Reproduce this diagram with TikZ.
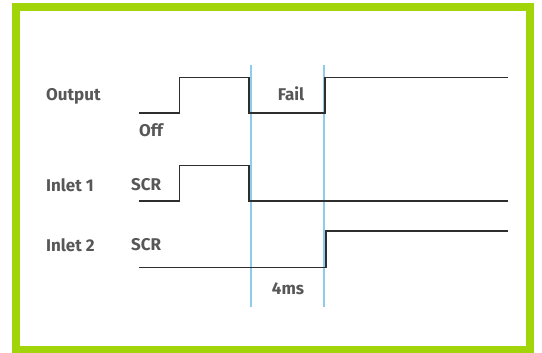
\documentclass[tikz,border=0pt]{standalone}
\usepackage{fontspec}
\setsansfont{Fira Sans}
\definecolor{frame}{HTML}{A2D40A}
\definecolor{ink}{HTML}{575757}
\definecolor{trace}{HTML}{2E2E2E}
\definecolor{marker}{HTML}{8FCBEA}

\begin{document}
\begin{tikzpicture}[x=1pt,y=-1pt,font=\sffamily\bfseries\fontsize{17}{19}\selectfont,
    text=ink,line join=miter]
  \tikzset{
    signal/.style={trace,line width=1.6pt},
    cursor/.style={marker,line width=1.6pt},
    sigtag/.style={anchor=west,inner sep=0pt}
  }
  \useasboundingbox (0,0) rectangle (542,353);
  \draw[frame,line width=8pt] (16,7) rectangle (529.5,350);

  % time cursors
  \draw[cursor] (250.8,65) -- (250.8,307);
  \draw[cursor] (323.8,65) -- (323.8,307);

  % traces
  \draw[signal] (139,113) -- (179.5,113) -- (179.5,77.5) -- (249,77.5)
    -- (249,113) -- (325,113) -- (325,77.5) -- (508,77.5);
  \draw[signal] (139,201) -- (179.5,201) -- (179.5,165.5) -- (249,165.5)
    -- (249,201) -- (508,201);
  \draw[signal] (139,267.5) -- (326,267.5) -- (326,231) -- (508,231);

  % labels
  \node[sigtag] (output) at (46,96.5) {Output};
  \node[sigtag] (inlet1) at (46,185) {Inlet 1};
  \node[sigtag] (inlet2) at (46,245) {Inlet 2};
  \node[sigtag] (scr1) at (131,185) {SCR};
  \node[sigtag] (scr2) at (131,245) {SCR};
  \node[sigtag] (off) at (139,130) {Off};
  \node[inner sep=0pt] (fail) at (291,94) {Fail};
  \node[inner sep=0pt] (gap) at (288,289) {4ms};
\end{tikzpicture}
\end{document}
